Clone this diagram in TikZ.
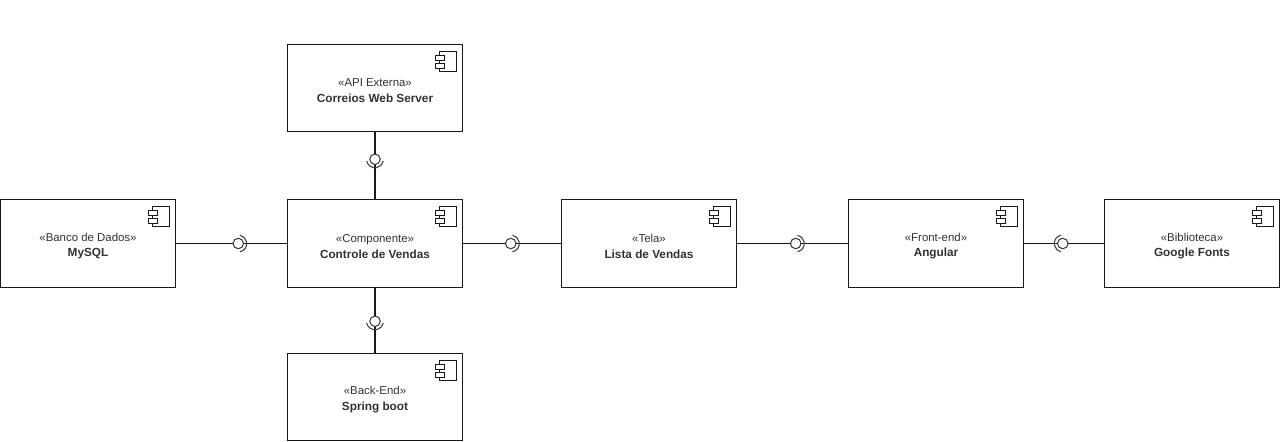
\documentclass[tikz,border=0pt]{standalone}
\usepackage{fontspec}
\setmainfont{Liberation Sans}
\usepackage{xcolor}
\usetikzlibrary{positioning}
\definecolor{inktext}{RGB}{50,50,50}
\definecolor{inkline}{RGB}{25,25,25}
\newcommand{\compicon}[1]{% little component symbol in the top right corner of a box
  \draw[ico] ([xshift=-0.46cm,yshift=-0.14cm]#1.north east) rectangle ([xshift=-0.13cm,yshift=-0.54cm]#1.north east);
  \draw[ico,fill=white] ([xshift=-0.54cm,yshift=-0.22cm]#1.north east) rectangle ([xshift=-0.36cm,yshift=-0.31cm]#1.north east);
  \draw[ico,fill=white] ([xshift=-0.54cm,yshift=-0.38cm]#1.north east) rectangle ([xshift=-0.36cm,yshift=-0.47cm]#1.north east);
}
\newcommand{\socket}[2]{\draw[sock] ([shift={(#2-78:0.17)}]#1.center) arc[start angle=#2-78,end angle=#2+78,radius=0.17];}
\newcommand{\compname}[2]{\rule{0pt}{7.6pt}«#1»\\{\fontsize{6.7}{9}\selectfont\bfseries #2}}
\begin{document}
\begin{tikzpicture}[inkline,line width=0.7pt,
  comp/.style={draw,align=center,text=inktext,minimum width=3.5cm,minimum height=1.76cm,inner sep=0pt,outer sep=0pt,
    font=\fontsize{6.5}{9}\selectfont},
  lolly/.style={draw=inkline!85,circle,minimum size=0.21cm,inner sep=0pt,outer sep=0pt,line width=0.6pt},
  sock/.style={draw=inkline!85,line width=0.6pt},
  ico/.style={line width=0.55pt}]
\useasboundingbox (0,0) rectangle (25.6,8.82);
\node[comp] (mysql) at (1.76,3.95) {\compname{Banco de Dados}{MySQL}};
\node[comp,right=2.24cm of mysql] (ctrl) {\compname{Componente}{Controle de Vendas}};
\node[comp,above=1.36cm of ctrl,minimum height=1.74cm] (correios) {\compname{API Externa}{Correios Web Server}};
\node[comp,below=1.32cm of ctrl,minimum height=1.74cm] (spring) {\compname{Back-End}{Spring boot}};
\node[comp,right=1.98cm of ctrl] (tela) {\compname{Tela}{Lista de Vendas}};
\node[comp,right=2.24cm of tela] (angular) {\compname{Front-end}{Angular}};
\node[comp,right=1.62cm of angular] (fonts) {\compname{Biblioteca}{Google Fonts}};
% interfaces between the boxes
\node[lolly,right=1.15cm of mysql] (lolsql) {};
\node[lolly,above=0.70cm of ctrl] (lolapi) {};
\node[lolly,below=0.57cm of ctrl] (lolback) {};
\node[lolly,right=0.86cm of ctrl] (loltela) {};
\node[lolly,right=1.08cm of tela] (lolfront) {};
\node[lolly,right=0.68cm of angular] (lolfonts) {};
\draw (mysql)--(lolsql)--(ctrl);
\draw (correios)--(lolapi)--(ctrl);
\draw (ctrl)--(lolback)--(spring);
\draw (ctrl)--(loltela)--(tela);
\draw (tela)--(lolfront)--(angular);
\draw (angular)--(lolfonts)--(fonts);
\socket{lolsql}{0}
\socket{lolapi}{-90}
\socket{lolback}{-90}
\socket{loltela}{0}
\socket{lolfront}{0}
\socket{lolfonts}{180}
\compicon{mysql} \compicon{ctrl} \compicon{correios} \compicon{spring}
\compicon{tela} \compicon{angular} \compicon{fonts}
\end{tikzpicture}
\end{document}
